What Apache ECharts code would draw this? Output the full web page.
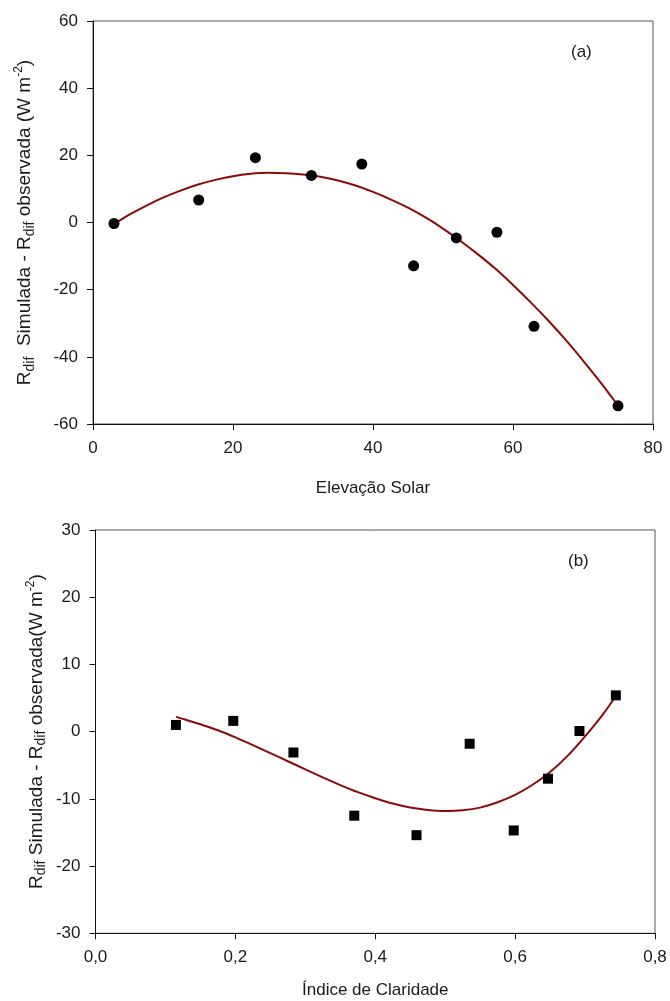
<!DOCTYPE html>
<html>
<head>
<meta charset="utf-8">
<script src="https://cdn.jsdelivr.net/npm/echarts@6/dist/echarts.min.js"></script>
<style>
  html, body { margin: 0; padding: 0; background: #fff; }
  #chart { width: 670px; height: 1001px; }
</style>
</head>
<body>
<div id="chart"></div>
<script>
// ---- Panel (a): Elevação Solar ----
const elevX = [3, 15.1, 23.2, 31.2, 38.4, 45.8, 51.9, 57.7, 63.0, 75.0];
const elevY = [-0.3, 6.7, 19.3, 14.0, 17.4, -12.9, -4.6, -2.9, -30.9, -54.6];
// fitted curve
const fitAX = [3, 5, 7.5, 10, 12.5, 15, 17.5, 20, 22.5, 25, 27.5, 30, 32.5, 35, 37.5, 40, 42.5, 45, 47.5, 50, 52.5, 55, 57.5, 60, 62.5, 65, 67.5, 70, 72.5, 75];
const fitAY = [-0.5, 2.1, 4.9, 7.4, 9.5, 11.3, 12.7, 13.8, 14.5, 14.8, 14.7, 14.3, 13.6, 12.5, 11.0, 9.1, 6.9, 4.4, 1.5, -1.8, -5.5, -9.5, -13.8, -18.6, -23.7, -29.1, -34.9, -41.1, -47.6, -54.5];
const ticksAX = ['0', '20', '40', '60', '80'];
const ticksAY = ['-60', '-40', '-20', '0', '20', '40', '60'];

// ---- Panel (b): Índice de Claridade ----
const kX = [0.115, 0.197, 0.283, 0.370, 0.459, 0.535, 0.598, 0.647, 0.692, 0.744];
const kY = [1.0, 1.6, -3.1, -12.5, -15.4, -1.8, -14.7, -7.0, 0.1, 5.4];
const fitBX = [0.115, 0.125, 0.15, 0.175, 0.2, 0.225, 0.25, 0.275, 0.3, 0.325, 0.35, 0.375, 0.4, 0.425, 0.45, 0.475, 0.5, 0.525, 0.55, 0.575, 0.6, 0.625, 0.65, 0.675, 0.7, 0.725, 0.744];
const fitBY = [2.2, 1.9, 1.1, 0.2, -0.85, -2.0, -3.2, -4.4, -5.6, -6.8, -7.95, -9.0, -9.9, -10.7, -11.3, -11.65, -11.8, -11.7, -11.3, -10.5, -9.4, -7.9, -6.0, -3.6, -0.7, 2.5, 5.3];
const ticksBX = ['0,0', '0,2', '0,4', '0,6', '0,8'];
const ticksBY = ['-30', '-20', '-10', '0', '10', '20', '30'];

const FONT = 'Liberation Sans, Arial, sans-serif';
const LINE_COLOR = '#8B0a0a';
const TEXT = '#1a1a1a';

function pairs(xs, ys) { return xs.map((x, i) => [x, ys[i]]); }
function tickFmt(labels, min, step) {
  return v => { const i = Math.round((v - min) / step); return labels[i] !== undefined ? labels[i] : ''; };
}

const richTitle = {
  n: { fontSize: 19, fontFamily: FONT, color: TEXT, lineHeight: 24, verticalAlign: 'middle' },
  sub: { fontSize: 14, fontFamily: FONT, color: TEXT, lineHeight: 14, verticalAlign: 'bottom' },
  sup: { fontSize: 12, fontFamily: FONT, color: TEXT, lineHeight: 12, verticalAlign: 'top' }
};

function xAxisCfg(gridIndex, min, max, interval, labels, name, nameGap) {
  return {
    type: 'value', gridIndex, min, max, interval,
    name, nameLocation: 'middle', nameGap, nameMoveOverlap: false,
    nameTextStyle: { fontSize: 17, fontFamily: FONT, color: TEXT },
    axisLine: { show: true, onZero: false, lineStyle: { color: '#111', width: 1 } },
    axisTick: { show: true, inside: false, length: 6, lineStyle: { color: '#111' } },
    axisLabel: { fontSize: 17, fontFamily: FONT, color: TEXT, margin: 16, formatter: tickFmt(labels, min, interval) },
    splitLine: { show: false }
  };
}
function yAxisCfg(gridIndex, min, max, interval, labels, name, nameGap) {
  return {
    type: 'value', gridIndex, min, max, interval,
    name, nameLocation: 'middle', nameGap, nameRotate: 90, nameMoveOverlap: false,
    nameTextStyle: { rich: richTitle },
    axisLine: { show: true, onZero: false, lineStyle: { color: '#111', width: 1 } },
    axisTick: { show: true, inside: false, length: 6, lineStyle: { color: '#111' } },
    axisLabel: { fontSize: 17, fontFamily: FONT, color: TEXT, margin: 15, formatter: tickFmt(labels, min, interval) },
    splitLine: { show: false }
  };
}

const chart = echarts.init(document.getElementById('chart'), null, { renderer: 'canvas' });
chart.setOption({
  backgroundColor: '#fff',
  animation: false,
  grid: [
    { left: 93, right: 17, top: 21, height: 403, show: true, borderColor: '#555', borderWidth: 1, backgroundColor: 'transparent' },
    { left: 95.5, right: 15, top: 530, height: 403.3, show: true, borderColor: '#555', borderWidth: 1, backgroundColor: 'transparent' }
  ],
  xAxis: [
    xAxisCfg(0, 0, 80, 20, ticksAX, 'Elevação Solar', 56),
    xAxisCfg(1, 0, 0.8, 0.2, ticksBX, 'Índice de Claridade', 49)
  ],
  yAxis: [
    yAxisCfg(0, -60, 60, 20, ticksAY, '{n|R}{sub|dif}{n|  Simulada - R}{sub|dif}{n| observada (W m}{sup|-2}{n|)}', 56),
    yAxisCfg(1, -30, 30, 10, ticksBY, '{n|R}{sub|dif}{n| Simulada - R}{sub|dif}{n| observada(W m}{sup|-2}{n|)}', 47)
  ],
  series: [
    { type: 'line', xAxisIndex: 0, yAxisIndex: 0, data: pairs(fitAX, fitAY), smooth: 0.3, showSymbol: false,
      lineStyle: { color: LINE_COLOR, width: 2 }, z: 2 },
    { type: 'scatter', xAxisIndex: 0, yAxisIndex: 0, data: pairs(elevX, elevY), symbol: 'circle', symbolSize: 11,
      itemStyle: { color: '#000', opacity: 1 }, z: 3 },
    { type: 'line', xAxisIndex: 1, yAxisIndex: 1, data: pairs(fitBX, fitBY), smooth: 0.3, showSymbol: false,
      lineStyle: { color: LINE_COLOR, width: 2 }, z: 2 },
    { type: 'scatter', xAxisIndex: 1, yAxisIndex: 1, data: pairs(kX, kY), symbol: 'rect', symbolSize: 10,
      itemStyle: { color: '#000', opacity: 1 }, z: 3 }
  ],
  graphic: [
    { type: 'text', left: 571, top: 44, style: { text: '(a)', fontSize: 17, fontFamily: FONT, fill: TEXT } },
    { type: 'text', left: 568, top: 553, style: { text: '(b)', fontSize: 17, fontFamily: FONT, fill: TEXT } }
  ]
});
</script>
</body>
</html>
